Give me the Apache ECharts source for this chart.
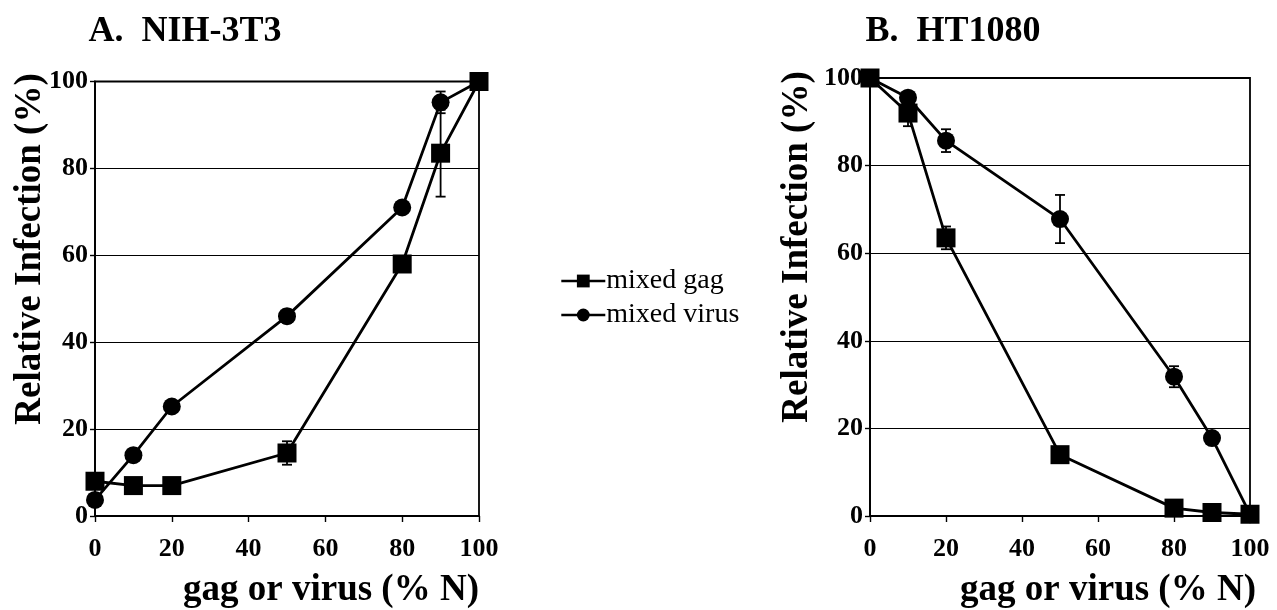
<!DOCTYPE html>
<html>
<head>
<meta charset="utf-8">
<script src="https://cdn.jsdelivr.net/npm/echarts@6/dist/echarts.min.js"></script>
<style>
html, body { margin: 0; padding: 0; background: #fff; }
#chart { width: 1277px; height: 610px; }
</style>
</head>
<body>
<div id="chart"></div>
<script>
var xValues = [0, 10, 20, 50, 80, 90, 100];
var xTicks = [0, 20, 40, 60, 80, 100];
var yTicks = [0, 20, 40, 60, 80, 100];

// A. NIH-3T3
var gagA = [8, 7, 7, 14.5, 58, 83.5, 100];
var gagAErr = [0, 0, 0, 2.7, 0, 10, 0];
var virusA = [3.7, 14, 25.2, 46, 71, 95.2, 100];
var virusAErr = [0, 0, 0, 1.5, 0, 2.5, 0];

// B. HT1080
var gagB = [100, 92, 63.5, 14, 1.8, 0.8, 0.4];
var gagBErr = [0, 3, 2.6, 0, 0, 0, 0];
var virusB = [100, 95.5, 85.7, 67.8, 31.8, 17.8, 0.4];
var virusBErr = [0, 0, 2.6, 5.5, 2.4, 0, 0];

var serif = 'Liberation Serif';

function pairs(vals) {
	return xValues.map(function(x, i) {
		return [x, vals[i]];
	});
}

function errData(vals, errs) {
	var out = [];
	xValues.forEach(function(x, i) {
		if (errs[i] > 0) out.push([x, vals[i] - errs[i], vals[i] + errs[i]]);
	});
	return out;
}

function errSeries(idx, vals, errs) {
	return {
		type: 'custom',
		xAxisIndex: idx,
		yAxisIndex: idx,
		z: 3,
		silent: true,
		data: errData(vals, errs),
		renderItem: function(params, api) {
			var lo = api.coord([api.value(0), api.value(1)]);
			var hi = api.coord([api.value(0), api.value(2)]);
			var w = 5;
			var st = { stroke: '#000', lineWidth: 1.8 };
			return {
				type: 'group',
				children: [
					{ type: 'line', shape: { x1: hi[0], y1: hi[1], x2: lo[0], y2: lo[1] }, style: st },
					{ type: 'line', shape: { x1: hi[0] - w, y1: hi[1], x2: hi[0] + w, y2: hi[1] }, style: st },
					{ type: 'line', shape: { x1: lo[0] - w, y1: lo[1], x2: lo[0] + w, y2: lo[1] }, style: st }
				]
			};
		}
	};
}

function lineSeries(idx, name, vals, symbol, size) {
	return {
		name: name,
		type: 'line',
		xAxisIndex: idx,
		yAxisIndex: idx,
		symbol: symbol,
		symbolSize: size,
		showAllSymbol: true,
		z: 4,
		lineStyle: { color: '#000', width: 2.8 },
		itemStyle: { color: '#000', borderWidth: 0 },
		data: pairs(vals)
	};
}

function xAxisFor(idx) {
	return {
		type: 'value',
		gridIndex: idx,
		min: 0,
		max: 100,
		interval: 20,
		axisLine: { lineStyle: { color: '#000', width: 1.8 } },
		axisTick: { length: 6, lineStyle: { color: '#000', width: 1.4 } },
		splitLine: { show: false },
		axisLabel: {
			margin: 20,
			color: '#000',
			fontFamily: serif,
			fontWeight: 'bold',
			fontSize: 26
		}
	};
}

function yAxisFor(idx) {
	return {
		type: 'value',
		gridIndex: idx,
		min: 0,
		max: 100,
		interval: 20,
		axisLine: { lineStyle: { color: '#000', width: 1.8 } },
		axisTick: { length: 5, lineStyle: { color: '#000', width: 1.4 } },
		splitLine: { lineStyle: { color: '#000', width: 1.1 } },
		axisLabel: {
			margin: 7,
			color: '#000',
			fontFamily: serif,
			fontWeight: 'bold',
			fontSize: 26
		}
	};
}

function txt(x, y, s, size, rot, weight) {
	return {
		type: 'text',
		x: x,
		y: y,
		rotation: rot || 0,
		style: {
			text: s,
			fill: '#000',
			font: (weight || 'bold') + ' ' + size + 'px "' + serif + '"',
			textAlign: 'center',
			textVerticalAlign: 'middle'
		}
	};
}

var option = {
	backgroundColor: '#fff',
	animation: false,
	grid: [
		{ left: 95, top: 81.5, width: 384, height: 434.5, show: true, borderColor: '#000', borderWidth: 1.8, backgroundColor: 'transparent' },
		{ left: 870, top: 78, width: 380, height: 438, show: true, borderColor: '#000', borderWidth: 1.8, backgroundColor: 'transparent' }
	],
	legend: {
		left: 555,
		top: 262,
		orient: 'vertical',
		itemWidth: 44,
		itemHeight: 16,
		itemGap: 6,
		data: ['mixed gag', 'mixed virus'],
		lineStyle: { width: 2.6, color: '#000' },
		textStyle: { color: '#000', fontFamily: serif, fontSize: 28, padding: [14, 0, 0, -4] }
	},
	xAxis: [xAxisFor(0), xAxisFor(1)],
	yAxis: [yAxisFor(0), yAxisFor(1)],
	graphic: [
		txt(185, 32, 'A.  NIH-3T3', 36),
		txt(953, 32, 'B.  HT1080', 36),
		txt(331, 590, 'gag or virus (% N)', 37),
		txt(1108, 590, 'gag or virus (% N)', 37),
		txt(30, 249, 'Relative Infection (%)', 37, Math.PI / 2),
		txt(797, 247, 'Relative Infection (%)', 37, Math.PI / 2)
	],
	series: [
		errSeries(0, virusA, virusAErr),
		errSeries(0, gagA, gagAErr),
		lineSeries(0, 'mixed virus', virusA, 'circle', 18),
		lineSeries(0, 'mixed gag', gagA, 'rect', 19),
		errSeries(1, virusB, virusBErr),
		errSeries(1, gagB, gagBErr),
		lineSeries(1, 'mixed virus', virusB, 'circle', 18),
		lineSeries(1, 'mixed gag', gagB, 'rect', 19)
	]
};

var my = echarts.init(document.getElementById('chart'));
my.setOption(option);
</script>
</body>
</html>
